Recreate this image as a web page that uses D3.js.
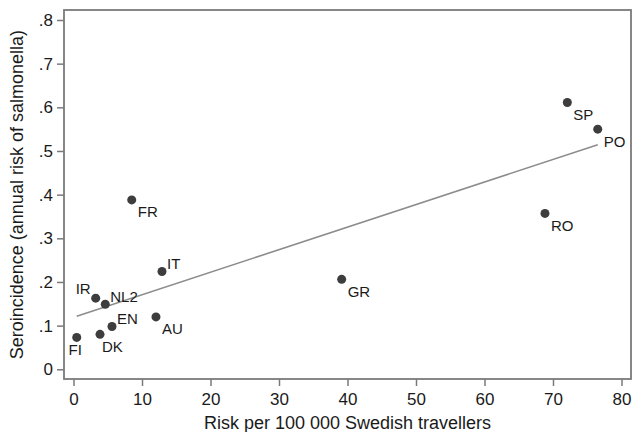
<!DOCTYPE html>
<html>
<head>
<meta charset="utf-8">
<script src="https://cdn.jsdelivr.net/npm/d3@7"></script>
<style>
  body { margin: 0; background: #fff; }
  text { font-family: "Liberation Sans", Arial, sans-serif; fill: #1a1a1a; }
</style>
</head>
<body>
<div id="chart"></div>
<script>
// Country codes and values
var countries = ["FI", "DK", "EN", "IR", "NL2", "AU", "IT", "FR", "GR", "RO", "SP", "PO"];
var travelRisk = [0.47, 3.87, 5.62, 3.24, 4.64, 12.04, 12.92, 8.5, 39.15, 68.83, 72.09, 76.53];
var seroincidence = [0.073, 0.08, 0.098, 0.163, 0.149, 0.12, 0.224, 0.388, 0.206, 0.357, 0.611, 0.55];
// Stata style clock position of each marker label
var labelClock = [6, 5, 2, 10, 2, 4, 2, 4, 4, 4, 4, 4];

var xTicks = [0, 10, 20, 30, 40, 50, 60, 70, 80];
var yTicks = [0, 0.1, 0.2, 0.3, 0.4, 0.5, 0.6, 0.7, 0.8];

var width = 641, height = 432;
// frame of the plot region
var frame = { left: 64, right: 631, top: 10, bottom: 379 };

var svg = d3.select("#chart")
  .append("svg")
  .attr("width", width)
  .attr("height", height);

var x = d3.scaleLinear().domain([0, 80]).range([73.5, 621.5]);
var y = d3.scaleLinear().domain([0, 0.8]).range([369.3, 20]);

var data = countries.map(function (c, i) {
  return { name: c, x: travelRisk[i], y: seroincidence[i], pos: labelClock[i] };
});

// frame
svg.append("rect")
  .attr("x", frame.left)
  .attr("y", frame.top)
  .attr("width", frame.right - frame.left)
  .attr("height", frame.bottom - frame.top)
  .attr("fill", "none")
  .attr("stroke", "#7a7a7a")
  .attr("stroke-width", 1.8);

// axes
var yFmt = function (v) { return v === 0 ? "0" : d3.format(".1f")(v).replace(/^0/, ""); };

var yAxis = svg.append("g")
  .attr("transform", "translate(" + frame.left + ",0)")
  .call(d3.axisLeft(y).tickValues(yTicks).tickFormat(yFmt).tickSize(7).tickPadding(4));
var xAxis = svg.append("g")
  .attr("transform", "translate(0," + frame.bottom + ")")
  .call(d3.axisBottom(x).tickValues(xTicks).tickFormat(d3.format("d")).tickSize(7).tickPadding(7));

[xAxis, yAxis].forEach(function (g) {
  g.select(".domain").remove();
  g.selectAll(".tick line").attr("stroke", "#7a7a7a").attr("stroke-width", 1.5);
  g.selectAll(".tick text")
    .attr("fill", "#1a1a1a")
    .style("font-size", "17px")
    .style("font-family", "'Liberation Sans', Arial, sans-serif");
});

// axis titles
svg.append("text")
  .attr("x", (frame.left + frame.right) / 2)
  .attr("y", 429)
  .attr("text-anchor", "middle")
  .style("font-size", "18px")
  .text("Risk per 100 000 Swedish travellers");

svg.append("text")
  .attr("transform", "translate(23," + (y(0) + y(0.8)) / 2 + ") rotate(-90)")
  .attr("text-anchor", "middle")
  .style("font-size", "18px")
  .text("Seroincidence (annual risk of salmonella)");

// linear fit
var reg = (function () {
  var mx = d3.mean(data, function (d) { return d.x; });
  var my = d3.mean(data, function (d) { return d.y; });
  var sxy = d3.sum(data, function (d) { return (d.x - mx) * (d.y - my); });
  var sxx = d3.sum(data, function (d) { return (d.x - mx) * (d.x - mx); });
  var b = sxy / sxx;
  return { a: my - b * mx, b: b };
})();
var ext = d3.extent(data, function (d) { return d.x; });

svg.append("path")
  .datum(ext.map(function (v) { return [v, reg.a + reg.b * v]; }))
  .attr("fill", "none")
  .attr("stroke", "#8c8c8c")
  .attr("stroke-width", 1.6)
  .attr("d", d3.line().x(function (d) { return x(d[0]); }).y(function (d) { return y(d[1]); }));

// points
svg.append("g")
  .selectAll("circle")
  .data(data)
  .enter()
  .append("circle")
  .attr("cx", function (d) { return x(d.x); })
  .attr("cy", function (d) { return y(d.y); })
  .attr("r", 4.5)
  .attr("fill", "#3d3d3d");

// marker labels, offset by clock position
var clockOffset = {
  2: { dx: 5, dy: -2.5, anchor: "start" },
  4: { dx: 6, dy: 17.5, anchor: "start" },
  5: { dx: 2, dy: 18, anchor: "start" },
  6: { dx: -1.5, dy: 18, anchor: "middle" },
  10: { dx: -5, dy: -4, anchor: "end" }
};

svg.append("g")
  .selectAll("text")
  .data(data)
  .enter()
  .append("text")
  .attr("x", function (d) { return x(d.x) + clockOffset[d.pos].dx; })
  .attr("y", function (d) { return y(d.y) + clockOffset[d.pos].dy; })
  .attr("text-anchor", function (d) { return clockOffset[d.pos].anchor; })
  .style("font-size", "15px")
  .text(function (d) { return d.name; });
</script>
</body>
</html>
